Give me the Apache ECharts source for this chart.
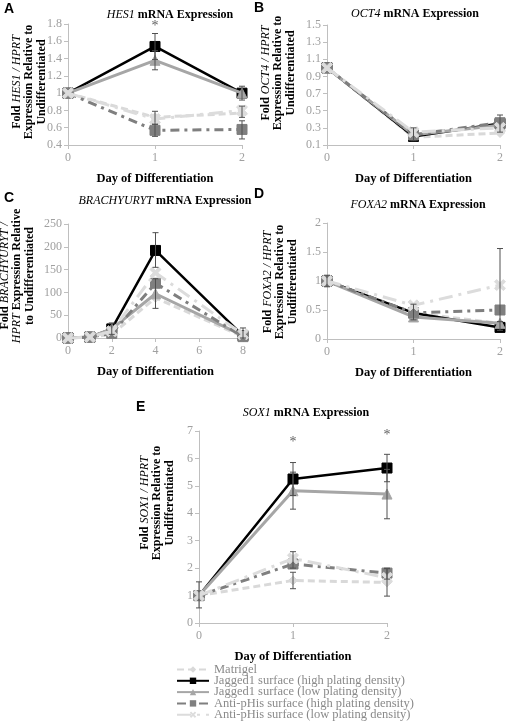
<!DOCTYPE html>
<html><head><meta charset="utf-8">
<script src="https://cdn.jsdelivr.net/npm/echarts@6/dist/echarts.min.js"></script>
<style>html,body{margin:0;padding:0;background:#fff}#c{width:506px;height:722px}</style>
</head><body><div id="c"></div>
<script>
// ---------- data ----------
const seriesNames = ['Matrigel','Jagged1 surface (high plating density)','Jagged1 surface (low plating density)','Anti-pHis surface (high plating density)','Anti-pHis surface (low plating density)'];
const days = [0,1,2];
const daysC = [0,1,2,4,8];

// A: HES1
const hesMatrigel = [1,0.72,0.77];
const hesJagHigh  = [1,1.54,1.0];
const hesJagLow   = [1,1.38,1.0];
const hesAntiHigh = [1,0.57,0.58];
const hesAntiLow  = [1,0.70,0.80];
const hesErr = [[1,1.39,1.69],[1,1.27,1.49],[1,0.64,0.79],[1,0.50,0.64],[2,0.92,1.08],[2,0.72,0.85],[2,0.47,0.68]];
const hesStar = [[1,1.77]];

// B: OCT4
const octMatrigel = [1,0.19,0.24];
const octJagHigh  = [1,0.20,0.35];
const octJagLow   = [1,0.22,0.33];
const octAntiHigh = [1,0.22,0.36];
const octAntiLow  = [1,0.25,0.30];
const octErr = [[1,0.15,0.30],[2,0.25,0.45]];

// C: BRACHYURYT
const braMatrigel = [0,2,8,88,3];
const braJagHigh  = [0,2,20,192,5];
const braJagLow   = [0,2,20,97,5];
const braAntiHigh = [0,2,10,120,3];
const braAntiLow  = [0,2,15,143,8];
const braErr = [[4,155,231],[4,65,130],[2,8,33],[8,0,22]];

// D: FOXA2
const foxMatrigel = [1,0.45,0.27];
const foxJagHigh  = [1,0.45,0.20];
const foxJagLow   = [1,0.38,0.27];
const foxAntiHigh = [1,0.45,0.50];
const foxAntiLow  = [1,0.58,0.93];
const foxErr = [[0,0.9,1.1],[1,0.33,0.6],[2,0.3,1.56],[2,0.15,0.3]];

// E: SOX1
const soxMatrigel = [1,1.55,1.48];
const soxJagHigh  = [1,5.25,5.65];
const soxJagLow   = [1,4.82,4.70];
const soxAntiHigh = [1,2.15,1.82];
const soxAntiLow  = [1,2.35,1.65];
const soxErr = [[0,0.55,1.5],[1,4.65,5.85],[1,4.15,5.5],[1,1.25,1.85],[1,2.0,2.6],[2,5.15,6.15],[2,3.8,5.6],[2,0.98,1.98],[2,1.6,2.0]];
const soxStar = [[1,6.6],[2,6.85]];

// ---------- styles ----------
const XPATH = 'path://M0,2 L2,0 L5,3 L8,0 L10,2 L7,5 L10,8 L8,10 L5,7 L2,10 L0,8 L3,5 Z';
const styles = [
  {color:'#d9d9d9', type:[7,4], width:3, symbol:'diamond', size:9},
  {color:'#000000', type:'solid', width:2.5, symbol:'rect', size:10},
  {color:'#a6a6a6', type:'solid', width:3, symbol:'triangle', size:10},
  {color:'#7f7f7f', type:[9,5,3,5], width:3, symbol:'rect', size:10},
  {color:'#dcdcdc', type:[14,6,3,6], width:3, symbol:XPATH, size:11}
];

const SERIF = 'Liberation Serif';
const grids = [
  {left:68, top:24, width:174, height:121},
  {left:327, top:25, width:174, height:120},
  {left:68, top:224, width:175, height:114},
  {left:327, top:223, width:174, height:116},
  {left:199, top:431, width:188, height:192}
];
const yRanges = [[0.4,1.8,0.2],[0.1,1.5,0.2],[0,250,50],[0,2,0.5],[0,7,1]];
const xRanges = [[0,2,1],[0,2,1],[0,8,2],[0,2,1],[0,2,1]];

const xAxes = xRanges.map((r,i)=>({
  type:'value', gridIndex:i, min:r[0], max:r[1], interval:r[2],
  axisLine:{lineStyle:{color:'#bfbfbf', width:1}}, axisTick:{show:true, length:4, lineStyle:{color:'#bfbfbf'}},
  splitLine:{show:false},
  axisLabel:{color:'#a0a0a0', fontFamily:SERIF, fontSize:12, margin:7},
  name:'Day of Differentiation', nameLocation:'middle', nameGap:27,
  nameTextStyle:{color:'#000', fontFamily:SERIF, fontWeight:'bold', fontSize:12.5}
}));
const yAxes = yRanges.map((r,i)=>({
  type:'value', gridIndex:i, min:r[0], max:r[1], interval:r[2],
  axisLine:{show:true, lineStyle:{color:'#bfbfbf', width:1}},
  axisTick:{show:true, length:4, lineStyle:{color:'#bfbfbf'}},
  splitLine:{show:false},
  axisLabel:{color:'#a0a0a0', fontFamily:SERIF, fontSize:12, margin:6}
}));

const panels = [
  {x:days, sets:[hesMatrigel,hesJagHigh,hesJagLow,hesAntiHigh,hesAntiLow], err:hesErr, star:hesStar},
  {x:days, sets:[octMatrigel,octJagHigh,octJagLow,octAntiHigh,octAntiLow], err:octErr, star:[]},
  {x:daysC, sets:[braMatrigel,braJagHigh,braJagLow,braAntiHigh,braAntiLow], err:braErr, star:[]},
  {x:days, sets:[foxMatrigel,foxJagHigh,foxJagLow,foxAntiHigh,foxAntiLow], err:foxErr, star:[]},
  {x:days, sets:[soxMatrigel,soxJagHigh,soxJagLow,soxAntiHigh,soxAntiLow], err:soxErr, star:soxStar}
];

function errRender(params, api){
  const x=api.value(0), lo=api.value(1), hi=api.value(2);
  const a=api.coord([x,lo]), b=api.coord([x,hi]); const w=3;
  const st={stroke:'#505050', lineWidth:1};
  return {type:'group', children:[
    {type:'line', shape:{x1:a[0],y1:a[1],x2:b[0],y2:b[1]}, style:st},
    {type:'line', shape:{x1:a[0]-w,y1:a[1],x2:a[0]+w,y2:a[1]}, style:st},
    {type:'line', shape:{x1:b[0]-w,y1:b[1],x2:b[0]+w,y2:b[1]}, style:st}
  ]};
}

const series = [];
panels.forEach((p,pi)=>{
  p.sets.forEach((vals,si)=>{
    const s=styles[si];
    series.push({
      type:'line', name:seriesNames[si], xAxisIndex:pi, yAxisIndex:pi,
      data:p.x.map((x,k)=>[x,vals[k]]),
      symbol:s.symbol, symbolSize:s.size, showAllSymbol:true,
      lineStyle:{color:s.color, width:s.width, type:s.type},
      itemStyle:{color:s.color, borderColor:s.color},
      z:2+si*0.1, animation:false
    });
  });
  series.push({
    type:'custom', xAxisIndex:pi, yAxisIndex:pi, renderItem:errRender,
    encode:{x:0, y:[1,2]}, data:p.err, z:5, animation:false, silent:true
  });
  if(p.star.length){
    series.push({
      type:'scatter', xAxisIndex:pi, yAxisIndex:pi, data:p.star, symbolSize:1,
      itemStyle:{color:'rgba(0,0,0,0)'},
      label:{show:true, formatter:'*', position:'inside', color:'#333', fontFamily:SERIF, fontSize:14},
      z:5, animation:false, silent:true
    });
  }
});

// ---------- texts ----------
function titleText(x,y,gene){
  return {type:'text', x:x, y:y, style:{
    text:'{i|'+gene+'}{b| mRNA Expression}', align:'center', verticalAlign:'middle',
    rich:{i:{fontFamily:SERIF, fontStyle:'italic', fontSize:12, fill:'#000'},
          b:{fontFamily:SERIF, fontWeight:'bold', fontSize:12, fill:'#000'}}
  }};
}
function yTitle(x,y,lines){
  return {type:'text', x:x, y:y, rotation:Math.PI/2, style:{
    text:lines.join('\n'), align:'center', verticalAlign:'middle', lineHeight:12.5,
    rich:{i:{fontFamily:SERIF, fontStyle:'italic', fontSize:12, fill:'#000', lineHeight:12.5},
          b:{fontFamily:SERIF, fontWeight:'bold', fontSize:12, fill:'#000', lineHeight:12.5}}
  }};
}
function letter(x,y,t){
  return {type:'text', x:x, y:y, style:{text:t, fontFamily:'Liberation Sans', fontWeight:'bold', fontSize:14, fill:'#000', verticalAlign:'middle'}};
}

const graphics = [
  letter(4,9,'A'), letter(254,8,'B'), letter(4,198,'C'), letter(254,194,'D'), letter(136,407,'E'),
  titleText(170,15,'HES1'), titleText(415,14,'OCT4'), titleText(165,201,'BRACHYURYT'), titleText(418,205,'FOXA2'), titleText(306,413,'SOX1'),
  yTitle(29,82,['{b|Fold }{i|HES1 / HPRT}','{b|Expression Relative to}','{b|Undifferentiated}']),
  yTitle(278,73,['{b|Fold }{i|OCT4 / HPRT}','{b|Expression Relative to}','{b|Undifferentiated}']),
  yTitle(17,276,['{b|Fold }{i|BRACHYURYT /}','{i|HPRT}{b| Expression Relative}','{b|to Undifferentiated}']),
  yTitle(280,282,['{b|Fold }{i|FOXA2 / HPRT}','{b|Expression Relative to}','{b|Undifferentiated}']),
  yTitle(157,503,['{b|Fold }{i|SOX1 / HPRT}','{b|Expression Relative to}','{b|Undifferentiated}'])
];

const legends = seriesNames.map((n,i)=>({
  data:[n], orient:'horizontal', left:176, top:663 + i*11.3, itemGap:0,
  itemWidth:32, itemHeight:8, padding:0,
  textStyle:{fontFamily:SERIF, fontSize:12.5, color:'#8a8a8a', padding:0}
}));

const chart = echarts.init(document.getElementById('c'), null, {renderer:'canvas'});
chart.setOption({
  animation:false,
  backgroundColor:'#fff',
  grid:grids,
  xAxis:xAxes, yAxis:yAxes,
  series:series,
  legend:legends,
  graphic:graphics
});
</script></body></html>
